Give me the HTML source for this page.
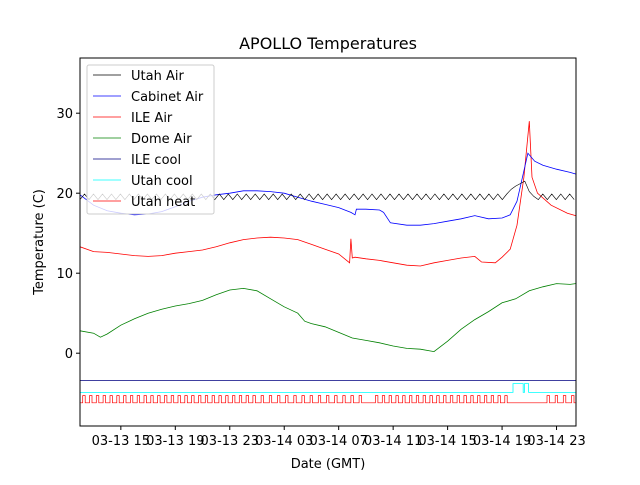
<!DOCTYPE html>
<html><head><meta charset="utf-8"><style>
body{margin:0;background:#fff}
svg{font-family:"DejaVu Sans","Liberation Sans",sans-serif}
</style></head><body>
<svg id="chart" width="640" height="480" viewBox="0 0 640 480" xmlns="http://www.w3.org/2000/svg">
<defs><clipPath id="clip"><rect x="80" y="58" width="496" height="368"/></clipPath></defs>
<rect width="640" height="480" fill="#fff"/>
<text x="328" y="49" font-size="16" text-anchor="middle">APOLLO Temperatures</text>
<text x="43" y="242" font-size="13" text-anchor="middle" transform="rotate(-90 43 242)">Temperature (C)</text>
<text x="328" y="468" font-size="13" text-anchor="middle">Date (GMT)</text>
<g id="plot" clip-path="url(#clip)"></g>
<g id="axes"></g>
<g id="legend"></g>
</svg>
<script>
const xTickHours=[15,19,23,27,31,35,39,43,47];
const xTickLabels=["03-13 15","03-13 19","03-13 23","03-14 03","03-14 07","03-14 11","03-14 15","03-14 19","03-14 23"];
const yTicks=[0,10,20,30];
const cabinetT=[12,13,14,15,16,17,18,19,20,21,22,23,24,25,26,27,28,29,30,31,31.9,32.2,32.3,33,34,34.3,34.8,36,37,38,39,40,41,42,43,43.6,44.1,44.9,45.4,46,47,48,48.4];
const cabinetV=[19.8,18.5,17.8,17.5,17.3,17.4,17.7,18.3,19.0,19.5,19.8,20.0,20.3,20.3,20.2,20.0,19.5,19.0,18.6,18.2,17.6,17.3,18.0,18.0,17.9,17.6,16.3,16.0,16.0,16.2,16.5,16.8,17.2,16.8,16.9,17.3,19.0,25.0,24.0,23.5,23.0,22.6,22.4];
const ileAirT=[12,13,14,15,16,17,18,19,20,21,22,23,24,25,26,27,28,29,30,31,31.8,31.9,32.0,32.2,33,34,35,36,37,38,39,40,41,41.5,42.5,43,43.6,44.1,44.6,45.0,45.2,45.6,46.6,47.8,48.4];
const ileAirV=[13.3,12.7,12.6,12.4,12.2,12.1,12.2,12.5,12.7,12.9,13.3,13.8,14.2,14.4,14.5,14.4,14.2,13.6,13.0,12.4,11.3,14.3,11.9,12.0,11.8,11.6,11.3,11.0,10.9,11.3,11.6,11.9,12.1,11.4,11.3,12.0,13.0,16.0,22.0,29.0,22.0,20.0,18.5,17.5,17.2];
const domeT=[12,13,13.5,14,15,16,17,18,19,20,21,22,23,24,25,26,27,28,28.5,29,30,31,32,33,34,35,36,37,38,39,40,41,42,43,44,45,46,47,48,48.4];
const domeV=[2.8,2.5,2.0,2.4,3.5,4.3,5.0,5.5,5.9,6.2,6.6,7.3,7.9,8.1,7.8,6.8,5.8,5.0,4.0,3.7,3.3,2.6,1.9,1.6,1.3,0.9,0.6,0.5,0.2,1.5,3.0,4.2,5.2,6.3,6.8,7.8,8.3,8.7,8.6,8.7];
const utahAirStart=12, utahAirStep=0.33;
const utahAirV=[19.2,19.9,19.2,19.9,19.2,19.9,19.2,19.9,19.2,19.9,19.2,19.9,19.2,19.9,19.2,19.9,19.2,19.9,19.2,19.9,19.2,19.9,19.2,19.9,19.2,19.9,19.2,19.9,19.2,19.9,19.2,19.9,19.2,19.9,19.2,19.9,19.2,19.9,19.2,19.9,19.2,19.9,19.2,19.9,19.2,19.9,19.2,19.9,19.2,19.9,19.2,19.9,19.2,19.9,19.2,19.9,19.2,19.9,19.2,19.9,19.2,19.9,19.2,19.9,19.2,19.9,19.2,19.9,19.2,19.9,19.2,19.9,19.2,19.9,19.2,19.9,19.2,19.9,19.2,19.9,19.2,19.9,19.2,19.9,19.2,19.9,19.2,19.9,19.2,19.9,19.2,19.9,19.2,19.9,19.2,19.9,20.5,20.9,21.2,21.5,20.2,19.6,19.2,19.9,19.2,19.9,19.2,19.9,19.2,19.9,19.2];
const ileCoolT=[12,48.4];
const ileCoolV=[-3.4,-3.4];
const utahCoolT=[12,43.8,43.8,44.55,44.55,44.65,44.65,44.95,44.95,48.4];
const utahCoolV=[-4.9,-4.9,-3.8,-3.8,-4.9,-4.9,-3.8,-3.8,-4.9,-4.9];
const heatPulses=[12.2,12.7,13.2,13.7,14.2,14.7,15.2,15.7,16.2,16.7,17.2,17.7,18.2,18.7,19.2,19.7,20.2,20.7,21.2,21.7,22.2,22.7,23.2,23.7,24.2,24.7,25.3,25.9,26.5,27.1,27.7,28.3,28.9,29.5,30.1,30.7,31.3,31.9,32.5,33.7,34.2,34.7,35.2,35.7,36.2,36.7,37.2,37.7,38.2,38.7,39.2,39.7,40.2,40.7,41.2,41.7,42.2,42.7,43.2,46.3,46.9,47.5,48.1];
const heatLow=-6.2, heatHigh=-5.3, heatWidth=0.18;

const L=80,R=576,T=58,B=426,h0=12,h1=48.43,vMin=-9.1,vMax=36.9;
const X=h=>L+(h-h0)/(h1-h0)*(R-L);
const Y=v=>B-(v-vMin)/(vMax-vMin)*(B-T);
const NS="http://www.w3.org/2000/svg";
const plot=document.getElementById('plot'),axes=document.getElementById('axes'),legend=document.getElementById('legend');
function mk(tag,attrs,parent){const e=document.createElementNS(NS,tag);for(const k in attrs)e.setAttribute(k,attrs[k]);parent.appendChild(e);return e;}
function line(ts,vs,color,name,w){
  const d=ts.map((t,i)=>(i?'L':'M')+X(t).toFixed(1)+','+Y(vs[i]).toFixed(1)).join('');
  const p=mk('path',{d:d,fill:'none',stroke:color,'stroke-width':w||0.8},plot);
  
  
}
line(domeT,domeV,'#008000','dome-air-line');
line(ileAirT,ileAirV,'#ff0000','ile-air-line');
line(cabinetT,cabinetV,'#0000ff','cabinet-air-line');
const utahAirT=utahAirV.map((v,i)=>utahAirStart+i*utahAirStep);
line(utahAirT,utahAirV,'#000000','utah-air-line',0.6);
line(ileCoolT,ileCoolV,'#000080','ile-cool-line');
line(utahCoolT,utahCoolV,'#00ffff','utah-cool-line');
const hT=[h0],hV=[heatLow];
heatPulses.forEach(p=>{hT.push(p,p,p+heatWidth,p+heatWidth);hV.push(heatLow,heatHigh,heatHigh,heatLow);});
hT.push(h1);hV.push(heatLow);
line(hT,hV,'#ff0000','utah-heat-line',0.7);

const frame=mk('rect',{x:L,y:T,width:R-L,height:B-T,fill:'none',stroke:'#000','stroke-width':1},axes);


xTickHours.forEach((h,i)=>{
  const x=X(h);
  const tk=mk('line',{x1:x,x2:x,y1:B,y2:B+4,stroke:'#000'},axes);
  
  
  const tx=mk('text',{x:x,y:B+19,'font-size':13,'text-anchor':'middle'},axes);
  tx.textContent=xTickLabels[i];
  
  
});
yTicks.forEach(v=>{
  const y=Y(v);
  const tk=mk('line',{x1:L-4,x2:L,y1:y,y2:y,stroke:'#000'},axes);
  
  
  const tx=mk('text',{x:L-7,y:y+5,'font-size':13,'text-anchor':'end'},axes);
  tx.textContent=v;
  
  
});
const lb=mk('rect',{x:87,y:65,width:127,height:149,rx:2,fill:'rgba(255,255,255,0.8)',stroke:'#ccc'},legend);


const legNames=['Utah Air','Cabinet Air','ILE Air','Dome Air','ILE cool','Utah cool','Utah heat'];
const legColors=['#000000','#0000ff','#ff0000','#008000','#000080','#00ffff','#ff0000'];
legNames.forEach((n,i)=>{
  const y=75+i*21;
  const g=mk('g',{},legend);
  
  
  mk('line',{x1:93,x2:121,y1:y,y2:y,stroke:legColors[i],'stroke-width':0.8},g);
  const t=mk('text',{x:131,y:y+5,'font-size':13},g);
  t.textContent=n;
});
</script>
</body></html>
